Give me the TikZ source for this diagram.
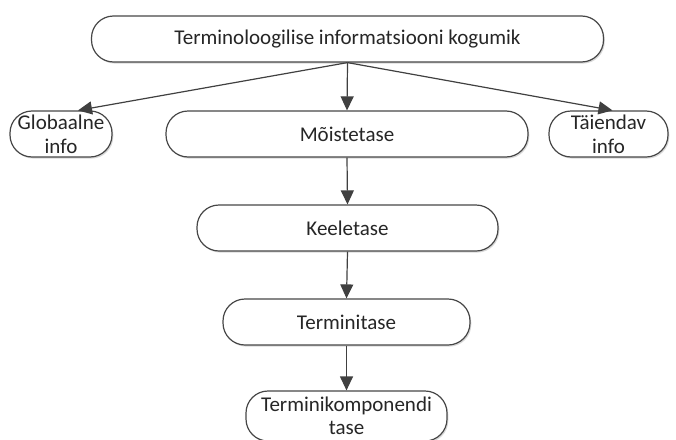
\documentclass[tikz,border=0pt]{standalone}
\usepackage{fontspec}
\setmainfont{Carlito}
\usetikzlibrary{arrows.meta,shadows,calc}
\begin{document}
\begin{tikzpicture}[x=1pt,y=-1pt,
  box/.style={draw=black!72, line width=1.2pt, rounded corners=22pt, fill=white,
    inner sep=0pt, align=center, font=\fontsize{21}{24}\selectfont, text=black!85,
    minimum height=46pt,
    drop shadow={shadow xshift=1.3pt, shadow yshift=-1.6pt, fill=black!30, opacity=0.5}},
  conn/.style={draw=black!75, line width=1.2pt, -{Triangle[length=14pt,width=13pt]}}]
\useasboundingbox (0,0) rectangle (676,439);
\node[box, minimum width=512pt] (top) at (347.5,39) {Terminoloogilise informatsiooni kogumik};
\node[box, minimum width=102pt] (glob) at (61,134) {Globaalne\\info};
\node[box, minimum width=362pt] (moiste) at (347,134) {Mõistetase};
\node[box, minimum width=119pt] (taiend) at (608.5,134) {Täiendav\\info};
\node[box, minimum width=301pt] (keel) at (347.5,228) {Keeletase};
\node[box, minimum width=247pt] (termin) at (346.5,322) {Terminitase};
\node[box, minimum width=201pt, minimum height=50pt, font=\fontsize{21}{22.5}\selectfont] (komp) at (346.5,416) {Terminikomponendi\\tase};
\draw[conn] (top.south) -- (moiste.north);
\draw[conn] (top.south) -- ($(glob.north)+(17,0)$);
\draw[conn] (top.south) -- ($(taiend.north)+(4,0)$);
\draw[conn] (moiste.south) -- (keel.north);
\draw[conn] (keel.south) -- (termin.north);
\draw[conn] (termin.south) -- (komp.north);
\end{tikzpicture}
\end{document}
